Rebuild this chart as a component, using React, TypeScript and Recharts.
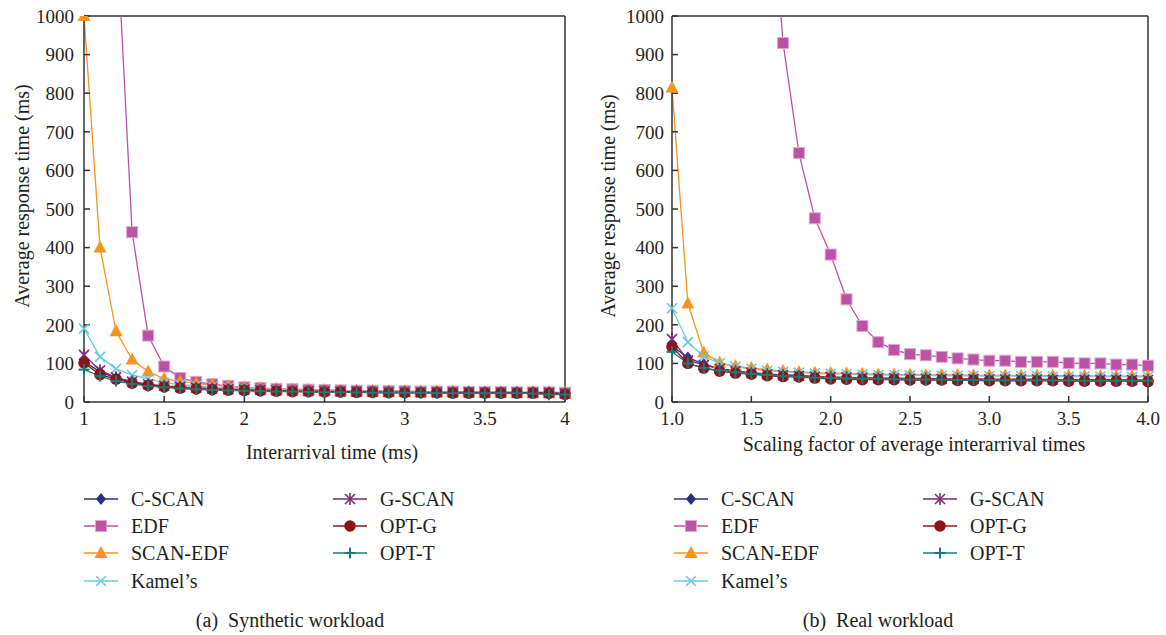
import React from "react";
import { LineChart, Line, XAxis, YAxis, ReferenceLine } from "recharts";

const xValues = [
  1.0, 1.1, 1.2, 1.3, 1.4, 1.5, 1.6, 1.7, 1.8, 1.9, 2.0, 2.1, 2.2, 2.3, 2.4, 2.5,
  2.6, 2.7, 2.8, 2.9, 3.0, 3.1, 3.2, 3.3, 3.4, 3.5, 3.6, 3.7, 3.8, 3.9, 4.0,
];
const xTicks = [1, 1.5, 2, 2.5, 3, 3.5, 4];
const yTicks = [0, 100, 200, 300, 400, 500, 600, 700, 800, 900, 1000];

// (a) synthetic workload
const synCScan = [105, 78, 62, 51, 44, 40, 37, 35, 33, 32, 31, 30, 29, 28, 27, 27, 26, 26, 25, 25, 25, 25, 24, 24, 24, 24, 24, 23, 23, 23, 21];
const synEdf = [3200, 2100, 1250, 440, 172, 92, 62, 52, 46, 42, 38, 36, 34, 33, 32, 31, 30, 29, 29, 28, 28, 27, 27, 27, 26, 26, 26, 25, 25, 25, 24];
const synScanEdf = [1000, 400, 183, 110, 79, 60, 54, 48, 44, 41, 38, 36, 34, 33, 32, 31, 30, 29, 29, 28, 28, 27, 27, 27, 26, 26, 26, 25, 25, 25, 24];
const synKamel = [190, 117, 86, 70, 60, 50, 45, 42, 39, 37, 35, 33, 32, 31, 30, 29, 29, 28, 28, 27, 27, 27, 26, 26, 26, 25, 25, 25, 25, 25, 24];
const synGScan = [122, 82, 64, 53, 46, 42, 39, 37, 35, 33, 32, 31, 30, 29, 28, 28, 27, 27, 26, 26, 26, 25, 25, 25, 25, 24, 24, 24, 24, 24, 22];
const synOptG = [101, 71, 59, 49, 43, 39, 36, 34, 32, 31, 30, 29, 28, 27, 27, 26, 26, 25, 25, 24, 24, 24, 24, 23, 23, 23, 23, 23, 23, 22, 20];
const synOptT = [84, 67, 54, 47, 41, 38, 35, 33, 31, 30, 29, 28, 27, 27, 26, 25, 25, 25, 24, 24, 24, 24, 23, 23, 23, 23, 23, 23, 22, 19, 19];

// (b) real workload
const realCScan = [145, 115, 98, 86, 80, 76, 72, 70, 68, 66, 64, 63, 62, 61, 61, 60, 60, 59, 59, 59, 58, 58, 58, 57, 57, 57, 57, 57, 56, 56, 56];
const realEdf = [7000, 6000, 5000, 4000, 3000, 2200, 1470, 930, 645, 476, 382, 266, 197, 155, 135, 124, 121, 117, 113, 110, 107, 107, 104, 104, 104, 101, 100, 100, 97, 97, 94];
const realScanEdf = [815, 255, 128, 102, 93, 88, 84, 80, 78, 76, 75, 74, 73, 72, 71, 71, 70, 70, 70, 69, 69, 69, 68, 68, 68, 68, 68, 67, 67, 67, 67];
const realKamel = [243, 155, 118, 100, 92, 86, 81, 78, 76, 74, 73, 72, 71, 70, 70, 69, 69, 68, 68, 68, 67, 67, 67, 67, 66, 66, 66, 66, 66, 65, 65];
const realGScan = [163, 108, 96, 86, 80, 76, 72, 70, 68, 66, 65, 64, 63, 62, 62, 61, 61, 60, 60, 60, 59, 59, 59, 59, 58, 58, 58, 58, 58, 57, 57];
const realOptG = [143, 100, 88, 80, 75, 72, 68, 66, 65, 62, 60, 59, 58, 58, 58, 57, 57, 57, 56, 56, 55, 55, 55, 55, 55, 54, 54, 54, 54, 54, 53];
const realOptT = [130, 100, 88, 82, 77, 73, 70, 67, 65, 63, 62, 61, 60, 60, 59, 58, 58, 58, 57, 57, 57, 56, 56, 56, 56, 56, 55, 55, 55, 55, 55];

const FONT = "'Liberation Serif', 'Times New Roman', serif";
const TEXT = "#231f20";

const SERIES = [
  { key: "cscan", name: "C-SCAN", color: "#2e2f7e", shape: "diamond" },
  { key: "edf", name: "EDF", color: "#bb53a5", shape: "square" },
  { key: "scanedf", name: "SCAN-EDF", color: "#f7941d", shape: "triangle" },
  { key: "kamel", name: "Kamel\u2019s", color: "#66cbe0", shape: "x" },
  { key: "gscan", name: "G-SCAN", color: "#7b2a7b", shape: "star" },
  { key: "optg", name: "OPT-G", color: "#8a1519", shape: "circle" },
  { key: "optt", name: "OPT-T", color: "#1a7b7b", shape: "plus" },
];

function buildRows(cols: Record<string, number[]>) {
  return xValues.map((x, i) => {
    const row: Record<string, number> = { x };
    for (const k of Object.keys(cols)) row[k] = cols[k][i];
    return row;
  });
}

const synData = buildRows({
  cscan: synCScan, edf: synEdf, scanedf: synScanEdf, kamel: synKamel,
  gscan: synGScan, optg: synOptG, optt: synOptT,
});
const realData = buildRows({
  cscan: realCScan, edf: realEdf, scanedf: realScanEdf, kamel: realKamel,
  gscan: realGScan, optg: realOptG, optt: realOptT,
});

function Marker({ shape, color, cx, cy }: { shape: string; color: string; cx: number; cy: number }) {
  switch (shape) {
    case "diamond":
      return <polygon points={`${cx},${cy - 6} ${cx + 5},${cy} ${cx},${cy + 6} ${cx - 5},${cy}`} fill={color} />;
    case "square":
      return <rect x={cx - 5.5} y={cy - 5.5} width={11} height={11} fill={color} stroke="#e0a5d3" strokeWidth={1} />;
    case "triangle":
      return <polygon points={`${cx},${cy - 7} ${cx + 6.5},${cy + 5} ${cx - 6.5},${cy + 5}`} fill={color} />;
    case "x":
      return (
        <g stroke={color} strokeWidth={1.6}>
          <line x1={cx - 5} y1={cy - 5} x2={cx + 5} y2={cy + 5} />
          <line x1={cx - 5} y1={cy + 5} x2={cx + 5} y2={cy - 5} />
        </g>
      );
    case "star":
      return (
        <g stroke={color} strokeWidth={1.6}>
          <line x1={cx - 5} y1={cy - 5} x2={cx + 5} y2={cy + 5} />
          <line x1={cx - 5} y1={cy + 5} x2={cx + 5} y2={cy - 5} />
          <line x1={cx} y1={cy - 6} x2={cx} y2={cy + 6} />
        </g>
      );
    case "circle":
      return <circle cx={cx} cy={cy} r={5.8} fill={color} />;
    default:
      return (
        <g stroke={color} strokeWidth={2}>
          <line x1={cx - 5.5} y1={cy} x2={cx + 5.5} y2={cy} />
          <line x1={cx} y1={cy - 5.5} x2={cx} y2={cy + 5.5} />
        </g>
      );
  }
}

function dotFor(shape: string, color: string) {
  return (props: any) => {
    const { cx, cy, index } = props;
    if (cx == null || cy == null) return <g key={`d-${index}`} />;
    return (
      <g key={`d-${index}`}>
        <Marker shape={shape} color={color} cx={cx} cy={cy} />
      </g>
    );
  };
}

type PanelProps = {
  data: Record<string, number>[];
  left: number;
  marginLeft: number;
  marginRight: number;
  yTickMargin: number;
  fmt: (v: number) => string;
};

function Panel({ data, left, marginLeft, marginRight, yTickMargin, fmt }: PanelProps) {
  const tick = { fill: TEXT, fontSize: 19, fontFamily: FONT };
  return (
    <div style={{ position: "absolute", left, top: 0 }}>
      <LineChart
        width={580}
        height={470}
        data={data}
        margin={{ top: 16, right: marginRight, bottom: 18, left: marginLeft }}
      >
        <XAxis
          dataKey="x"
          type="number"
          domain={[1, 4]}
          ticks={xTicks}
          tickFormatter={fmt}
          tick={tick}
          height={50}
          tickSize={-6}
          tickMargin={16}
          stroke="#333"
          strokeWidth={1.5}
          interval={0}
        />
        <YAxis
          type="number"
          domain={[0, 1000]}
          allowDataOverflow
          ticks={yTicks}
          tick={tick}
          width={60}
          tickSize={-6}
          tickMargin={yTickMargin}
          stroke="#333"
          strokeWidth={1.5}
          interval={0}
        />
        <ReferenceLine y={1000} stroke="#333" strokeWidth={1.5} />
        <ReferenceLine x={4} stroke="#333" strokeWidth={1.5} />
        {SERIES.map((s) => (
          <Line
            key={s.key}
            dataKey={s.key}
            name={s.name}
            type="linear"
            stroke={s.color}
            strokeWidth={1.3}
            dot={dotFor(s.shape, s.color)}
            activeDot={false}
            isAnimationActive={false}
          />
        ))}
      </LineChart>
    </div>
  );
}

function LegendItem({ s, x, y }: { s: (typeof SERIES)[number]; x: number; y: number }) {
  return (
    <div style={{ position: "absolute", left: x, top: y - 12, height: 24, display: "flex", alignItems: "center" }}>
      <svg width={34} height={16} style={{ display: "block" }}>
        <line x1={0} y1={8} x2={34} y2={8} stroke={s.color} strokeWidth={1.5} />
        <Marker shape={s.shape} color={s.color} cx={17} cy={8} />
      </svg>
      <span style={{ marginLeft: 13, fontSize: 20, color: TEXT, whiteSpace: "nowrap" }}>{s.name}</span>
    </div>
  );
}

function Legend({ col1, col2 }: { col1: number; col2: number }) {
  const rows = [499, 526, 553, 581];
  return (
    <>
      {SERIES.slice(0, 4).map((s, i) => (
        <LegendItem key={s.key} s={s} x={col1} y={rows[i]} />
      ))}
      {SERIES.slice(4).map((s, i) => (
        <LegendItem key={s.key} s={s} x={col2} y={rows[i]} />
      ))}
    </>
  );
}

function Centered({ x, y, rotate, children }: { x: number; y: number; rotate?: boolean; children: React.ReactNode }) {
  return (
    <div
      style={{
        position: "absolute",
        left: x,
        top: y,
        transform: `translate(-50%, -50%)${rotate ? " rotate(-90deg)" : ""}`,
        whiteSpace: "pre",
        fontSize: 20,
        color: TEXT,
        lineHeight: "22px",
      }}
    >
      {children}
    </div>
  );
}

export default function App() {
  return (
    <div
      style={{
        position: "absolute",
        left: 0,
        top: 0,
        width: 1166,
        height: 635,
        background: "#fff",
        fontFamily: FONT,
        overflow: "hidden",
      }}
    >
      <Panel data={synData} left={0} marginLeft={24} marginRight={15} yTickMargin={16} fmt={(v) => String(v)} />
      <Panel data={realData} left={585} marginLeft={27} marginRight={17} yTickMargin={14} fmt={(v) => v.toFixed(1)} />

      <Centered x={22} y={196} rotate>Average response time (ms)</Centered>
      <Centered x={608} y={206} rotate>Average response time (ms)</Centered>
      <Centered x={332} y={452}>Interarrival time (ms)</Centered>
      <Centered x={914} y={444}>Scaling factor of average interarrival times</Centered>

      <Legend col1={84} col2={333} />
      <Legend col1={674} col2={923} />

      <Centered x={290} y={620}>{"(a)\u2002Synthetic workload"}</Centered>
      <Centered x={878} y={620}>{"(b)\u2002Real workload"}</Centered>
    </div>
  );
}
